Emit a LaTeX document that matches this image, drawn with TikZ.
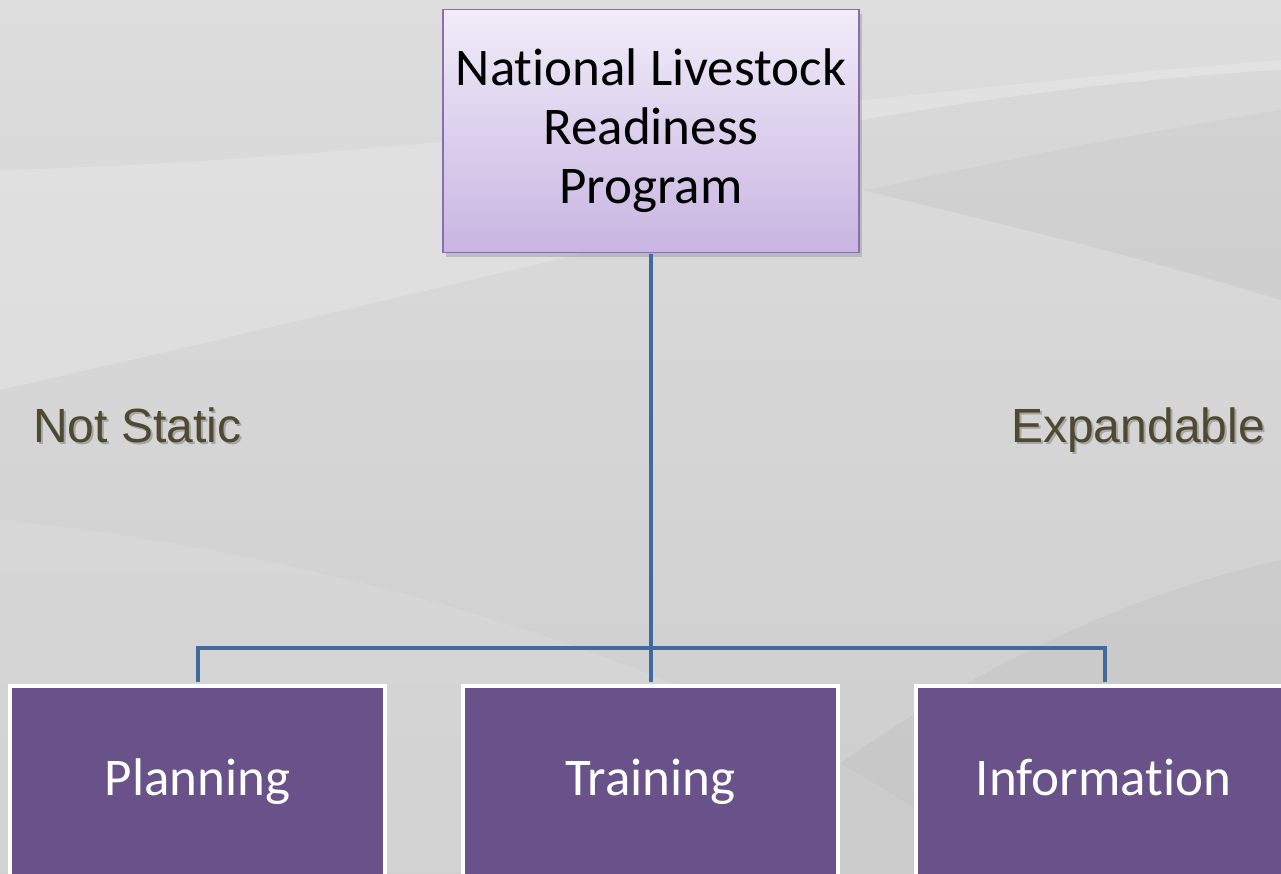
\documentclass[tikz,border=0pt]{standalone}
\usepackage{fontspec}
\setmainfont[RawFeature={-liga;-clig;-dlig}]{Carlito}
\newfontfamily\arialf{Liberation Sans}
\usetikzlibrary{shadows}
\definecolor{bgA}{HTML}{DDDDDD}
\definecolor{bgB}{HTML}{CDCDCD}
\definecolor{topTop}{HTML}{F1ECF8}
\definecolor{topBot}{HTML}{C8B5E2}
\definecolor{topBorder}{HTML}{8A6FB0}
\definecolor{boxFill}{HTML}{69518A}
\definecolor{lineBlue}{HTML}{41699B}
\definecolor{olive}{HTML}{4E4930}
\tikzset{
  topbox/.style={draw=topBorder, line width=1.5pt, top color=topTop, bottom color=topBot,
    minimum width=416pt, minimum height=243pt, inner sep=0pt, align=center,
    font=\fontsize{53}{59}\selectfont,
    drop shadow={opacity=0.35, shadow xshift=3pt, shadow yshift=-4pt}},
  subbox/.style={draw=white, line width=4pt, fill=boxFill, text=white,
    minimum width=375pt, minimum height=194pt, inner sep=0pt,
    text height=37pt, text depth=12pt,
    font=\fontsize{53}{60}\selectfont},
  conn/.style={draw=lineBlue, line width=4pt},
  sidelabel/.style={text=olive, font=\arialf\fontsize{48}{56}\selectfont, inner sep=0pt},
  sideshadow/.style={text=black, opacity=0.22, font=\arialf\fontsize{48}{56}\selectfont, inner sep=0pt}
}
\begin{document}
\begin{tikzpicture}[x=1pt,y=-1pt]
\useasboundingbox (0,0) rectangle (1281,873);
\clip (0,0) rectangle (1281,873);
% background
\shade[left color=bgA, right color=bgB, shading angle=0] (0,0) rectangle (1281,873);
\fill[white, opacity=0.18] (0,170) .. controls (400,160) and (900,90) .. (1281,60)
  -- (1281,110) .. controls (900,170) and (400,300) .. (0,390) -- cycle;
\fill[black, opacity=0.04] (700,150) .. controls (900,110) and (1100,80) .. (1281,70)
  -- (1281,300) .. controls (1050,230) and (850,190) .. (700,150) -- cycle;
\fill[white, opacity=0.10] (0,520) .. controls (400,560) and (800,700) .. (1000,873)
  -- (0,873) -- cycle;
\fill[black, opacity=0.03] (700,873) .. controls (900,700) and (1100,600) .. (1281,560)
  -- (1281,873) -- cycle;
% nodes
\node[topbox] (nlrp) at (651,131) {National Livestock\\Readiness\\Program};
\node[subbox] (plan) at (197.5,783) {Planning};
\node[subbox] (train) at (650.5,783) {Training};
\node[subbox] (info) at (1103.5,783) {Information};
\coordinate (bus) at (651,648);
% connectors
\draw[conn, shorten <=1pt] (nlrp.south) -- (bus);
\draw[conn, shorten >=2pt] (bus) -| ([xshift=0.5pt]plan.north);
\draw[conn, shorten >=2pt] (bus) -| ([xshift=1.5pt]info.north);
\draw[conn, shorten >=2pt] (bus) -- (train.north -| bus);
% side labels
\node[sideshadow, anchor=base west] at (35,444) {Not Static};
\node[sidelabel, anchor=base west] (ns) at (33,442) {Not Static};
\node[sideshadow, anchor=base east] at (1267,444) {Expandable};
\node[sidelabel, anchor=base east] (ex) at (1265,442) {Expandable};
\end{tikzpicture}
\end{document}
